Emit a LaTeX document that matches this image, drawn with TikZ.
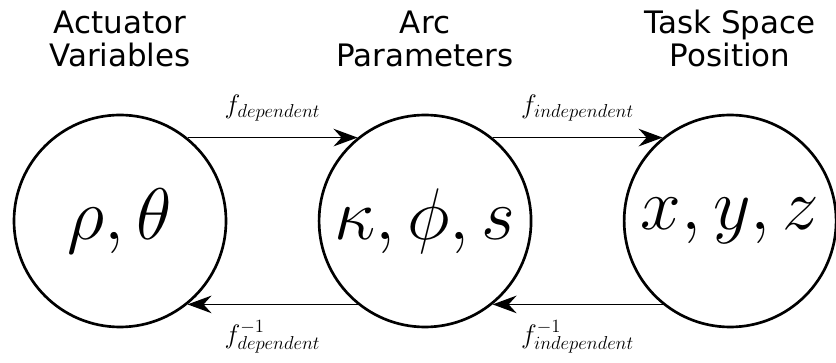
\RequirePackage{fix-cm}
\documentclass[tikz,border=0pt]{standalone}
\usepackage{fontspec}
\newfontfamily\titlefont{DejaVu Sans}
\usetikzlibrary{arrows.meta, positioning}

\begin{document}
\begin{tikzpicture}[
  >={Stealth[length=6mm, width=4.4mm, inset=2mm]},
  space/.style={circle, draw, line width=1.9pt, minimum size=5.3cm, inner sep=0pt,
    font=\fontsize{52}{60}\selectfont},
  heading/.style={align=center, inner sep=0pt, font=\titlefont\fontsize{22}{23.5}\selectfont},
  arr/.style={->, line width=1.2pt},
  maplbl/.style={inner sep=0pt, font=\fontsize{19}{23}\selectfont},
]

\useasboundingbox (0,0) rectangle (20.9,-9.075);

% Spaces
\node[space] (act) at (3.0,-5.525) {$\rho, \theta$};
\node[space, right=2.26cm of act] (arc) {$\kappa, \phi, s$};
\node[space, right=2.26cm of arc] (task) {$x, y, z$};

% Headings
\node[heading, above=1.17cm of act] (acthead) {Actuator\\Variables};
\node[heading, above=1.17cm of arc] (archead) {Arc\\Parameters};
\node[heading, above=1.17cm of task] (taskhead) {Task Space\\Position};

% Maps
\draw[arr] (act.51) -- node[maplbl, above=0.4cm] (fdep) {$f_{dependent}$} (arc.129);
\draw[arr] (arc.-129) -- node[maplbl, below=0.38cm] (fdepinv) {$f^{-1}_{dependent}$} (act.-51);

\draw[arr] (arc.51) -- node[maplbl, above=0.4cm] (findep) {$f_{independent}$} (task.129);
\draw[arr] (task.-129) -- node[maplbl, below=0.38cm] (findepinv) {$f^{-1}_{independent}$} (arc.-51);

\end{tikzpicture}
\end{document}
